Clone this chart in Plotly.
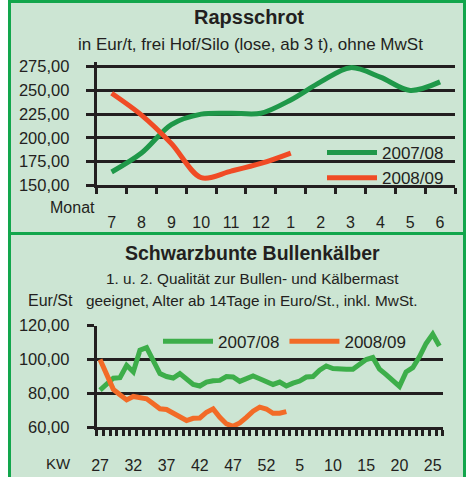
import plotly.graph_objects as go

W, H = 469, 477

# ---------------- data ----------------
months = ["7", "8", "9", "10", "11", "12", "1", "2", "3", "4", "5", "6"]
raps_0708 = [164, 184, 214, 225, 226, 226, 240, 259, 274, 264, 250, 259]
raps_0809 = [247, 224, 194, 158, 165, 173, 184]

weeks = [str(w) for w in list(range(27, 53)) + list(range(1, 27))]
kalb_0708 = [82, 85.7, 89, 89.3, 96.6, 92.7, 105.5, 107, 99.6, 91.7,
             90, 89.1, 91.7, 88, 85.3, 84.4, 86.7, 87.5, 87.7, 90,
             89.7, 87.1, 88.7, 90.3, 88.7, 87.2, 85.3, 86.7, 84.4, 86.1,
             87.3, 89.7, 90, 93.7, 96.2, 94.7, 94.3, 94.3, 94.3, 97,
             100, 101.2, 94.3, 91.1, 87.5, 84.2, 92.7, 95.2, 101.6, 109.5,
             115, 108]
kalb_0809 = [100, 90.7, 82.4, 79.2, 76.2, 78.2, 77.8, 76.8, 73.9, 70.9,
             70.5, 68.5, 66.5, 64, 65.3, 65.5, 68.9, 70.9, 65.9, 62,
             60.6, 62.6, 65.9, 69.5, 71.9, 70.8, 68.3, 68.3, 69.3]

raps_ticks = [150, 175, 200, 225, 250, 275]
kalb_ticks = [60, 80, 100, 120]
series_names = ["2007/08", "2008/09"]

# ---------------- styles ----------------
FONT = "Liberation Sans, Arial, sans-serif"
INK = "#231F20"
BG = "#CCE5D3"
FRAME = "#12A64C"
C_TOP = ["#1F9849", "#F04B25"]
C_BOT = ["#3DAE4A", "#F26B27"]


def px_x(v):
    return v / W


def px_y(v):
    return 1 - v / H


fig = go.Figure()

fig.add_trace(go.Scatter(x=months, y=raps_0708, name=series_names[0], mode="lines",
                         line=dict(color=C_TOP[0], width=5, shape="spline", smoothing=0.9),
                         xaxis="x", yaxis="y", legend="legend"))
fig.add_trace(go.Scatter(x=months[:len(raps_0809)], y=raps_0809, name=series_names[1], mode="lines",
                         line=dict(color=C_TOP[1], width=5, shape="spline", smoothing=0.9),
                         xaxis="x", yaxis="y", legend="legend"))

idx_all = list(range(len(weeks)))
fig.add_trace(go.Scatter(x=idx_all[:len(kalb_0708)], y=kalb_0708, name=series_names[0], mode="lines",
                         line=dict(color=C_BOT[0], width=5), xaxis="x2", yaxis="y2", legend="legend2"))
fig.add_trace(go.Scatter(x=idx_all[:len(kalb_0809)], y=kalb_0809, name=series_names[1], mode="lines",
                         line=dict(color=C_BOT[1], width=5), xaxis="x2", yaxis="y2", legend="legend2"))

ytickfont = dict(family=FONT, size=16.5, color=INK)
xtickfont = dict(family=FONT, size=16, color=INK)

fig.update_layout(
    width=W, height=H,
    margin=dict(l=0, r=0, t=0, b=0, autoexpand=False),
    paper_bgcolor="white",
    plot_bgcolor="rgba(0,0,0,0)",
    font=dict(family=FONT, color=INK),
    showlegend=True,
    xaxis=dict(domain=[px_x(96.7), px_x(455)], type="category", categoryorder="array",
               categoryarray=months, range=[-0.5, 11.5], tickson="boundaries",
               ticks="outside", ticklen=6, tickwidth=3, tickcolor=INK, tickangle=0,
               showline=True, linecolor=INK, linewidth=3, showgrid=False,
               tickfont=xtickfont, ticklabelstandoff=20, anchor="y", fixedrange=True,
               automargin=False),
    yaxis=dict(domain=[px_y(185.3), px_y(61.96)], range=[150, 280], tickvals=raps_ticks,
               ticktext=[f"{v:.2f}".replace(".", ",") for v in raps_ticks],
               ticks="outside", ticklen=8, tickwidth=3, tickcolor=INK,
               showline=True, linecolor=INK, linewidth=3,
               showgrid=True, gridcolor=INK, gridwidth=3, zeroline=False,
               tickfont=ytickfont, ticklabelstandoff=13, anchor="x", fixedrange=True,
               automargin=False),
    xaxis2=dict(domain=[px_x(96.7), px_x(442.7)], type="linear", range=[-0.5, len(weeks) - 0.5],
                tickmode="array", tickvals=idx_all[::5], ticktext=weeks[::5], tickangle=0,
                ticks="", showline=True, linecolor=INK, linewidth=3, showgrid=False, zeroline=False,
                minor=dict(ticks="outside", tickmode="linear", tick0=-0.5, dtick=1,
                           ticklen=6, tickwidth=2.5, tickcolor=INK, showgrid=False),
                tickfont=xtickfont, ticklabelstandoff=21, anchor="y2", fixedrange=True,
                automargin=False),
    yaxis2=dict(domain=[px_y(427.3), px_y(325.7)], range=[60, 120], tickvals=kalb_ticks,
                ticktext=[f"{v:.2f}".replace(".", ",") for v in kalb_ticks],
                ticks="outside", ticklen=7, tickwidth=3, tickcolor=INK,
                showline=True, linecolor=INK, linewidth=3,
                showgrid=True, gridcolor=INK, gridwidth=3, zeroline=False,
                tickfont=ytickfont, ticklabelstandoff=14, anchor="x2", fixedrange=True,
                automargin=False),
    legend=dict(x=px_x(322), y=px_y(135), xanchor="left", yanchor="top",
                bgcolor="rgba(0,0,0,0)", borderwidth=0, tracegroupgap=0, itemwidth=50,
                font=dict(family=FONT, size=17, color=INK)),
    legend2=dict(orientation="h", x=px_x(158), y=px_y(341.7), xanchor="left", yanchor="middle",
                 bgcolor="rgba(0,0,0,0)", borderwidth=0, itemwidth=50,
                 font=dict(family=FONT, size=17, color=INK)),
)

# panel frames / backgrounds
fig.add_shape(type="rect", xref="paper", yref="paper", layer="below",
              x0=px_x(9.5), x1=px_x(464.5), y0=px_y(233.5), y1=px_y(1.5),
              fillcolor=BG, line=dict(color=FRAME, width=3))
fig.add_shape(type="rect", xref="paper", yref="paper", layer="below",
              x0=px_x(9.5), x1=px_x(464.5), y0=px_y(485), y1=px_y(233.5),
              fillcolor=BG, line=dict(color=FRAME, width=3))


def label(text, x, y, size, bold=False):
    fig.add_annotation(text=f"<b>{text}</b>" if bold else text, xref="paper", yref="paper",
                       x=px_x(x), y=px_y(y), xanchor="center", yanchor="middle",
                       showarrow=False, font=dict(family=FONT, size=size, color=INK))


label("Rapsschrot", 249, 17, 20, bold=True)
label("in Eur/t, frei Hof/Silo (lose, ab 3 t), ohne MwSt", 250, 44, 17)
label("Monat", 72.5, 207, 16)
label("Schwarzbunte Bullenkälber", 252, 253, 19.5, bold=True)
label("1. u. 2. Qualität zur Bullen- und Kälbermast", 252, 278, 15.3)
label("geeignet, Alter ab 14Tage in Euro/St., inkl. MwSt.", 252, 300, 15.3)
label("Eur/St", 50.5, 300, 16)
label("KW", 58.5, 463, 15)

fig.write_html("out.html", config={"displayModeBar": False},
               post_script="document.body.style.margin='0';document.body.style.padding='0';"
                           "document.body.style.overflow='hidden';")
